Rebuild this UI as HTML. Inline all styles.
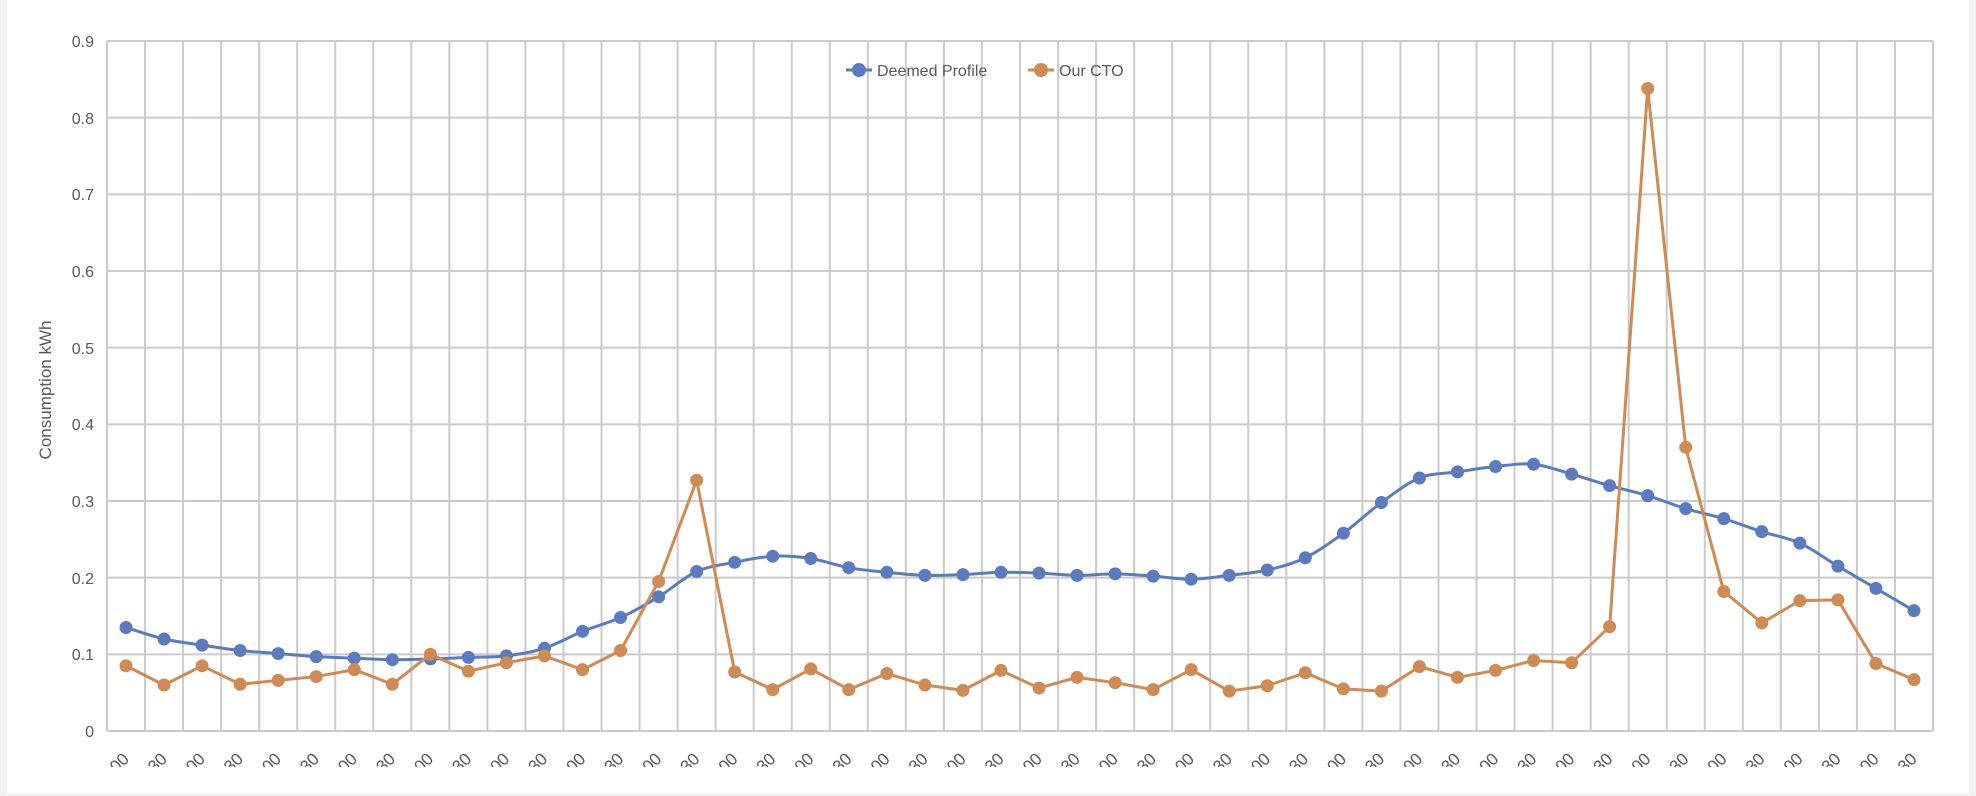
<!DOCTYPE html>
<html><head><meta charset="utf-8"><style>
body{margin:0;background:#f2f2f2;}
svg{display:block;font-family:"Liberation Sans",sans-serif;}
</style></head><body>
<svg id="c" width="1976" height="796" xmlns="http://www.w3.org/2000/svg">
<defs><clipPath id="cl"><rect x="0" y="745" width="1976" height="22"/></clipPath></defs>
<rect x="7" y="0" width="1962" height="793" fill="#fff"/>
<g id="grid" stroke="#cbcbcb" stroke-width="2"></g>
<g fill="#595959" font-size="16" text-anchor="end">
<text x="94" y="47">0.9</text><text x="94" y="124">0.8</text><text x="94" y="200">0.7</text>
<text x="94" y="277">0.6</text><text x="94" y="354">0.5</text><text x="94" y="430">0.4</text>
<text x="94" y="507">0.3</text><text x="94" y="584">0.2</text><text x="94" y="660">0.1</text>
<text x="94" y="737">0</text>
</g>
<text transform="translate(51,390) rotate(-90)" fill="#595959" font-size="17" text-anchor="middle">Consumption kWh</text>
<g id="xl" fill="#595959" font-size="17" text-anchor="end" clip-path="url(#cl)"></g>
<g id="series"></g>
<g font-size="16" fill="#595959">
<line x1="846" y1="70" x2="872" y2="70" stroke="#5b7bc0" stroke-width="3"/>
<circle cx="859" cy="70" r="7" fill="#5b7bc0"/>
<text x="877" y="76">Deemed Profile</text>
<line x1="1028" y1="70" x2="1054" y2="70" stroke="#d08a53" stroke-width="3"/>
<circle cx="1041" cy="70" r="7" fill="#d08a53"/>
<text x="1059" y="76">Our CTO</text>
</g>
</svg>
<script>
const L=107,R=1933,T=41,B=731,n=48,w=(R-L)/n;
const ns="http://www.w3.org/2000/svg";
function el(t,a,p){const e=document.createElementNS(ns,t);for(const k in a)e.setAttribute(k,a[k]);p.appendChild(e);return e;}
const g=document.getElementById('grid');
for(let i=0;i<=9;i++){const y=T+(B-T)*i/9;el('line',{x1:L,x2:R,y1:y,y2:y},g);}
for(let i=0;i<=n;i++){const x=L+w*i;el('line',{x1:x,x2:x,y1:T,y2:B},g);}
const xl=document.getElementById('xl');
for(let i=0;i<n;i++){const x=L+w*(i+0.5);const t=el('text',{transform:`translate(${x+4},${760}) rotate(-45)`},xl);t.textContent=i%2?'00:30':'00:00';}
const blue=[0.135,0.12,0.112,0.105,0.101,0.097,0.095,0.093,0.094,0.096,0.098,0.108,0.13,0.148,0.175,0.208,0.22,0.228,0.225,0.213,0.207,0.203,0.204,0.207,0.206,0.203,0.205,0.202,0.198,0.203,0.21,0.226,0.258,0.298,0.33,0.338,0.345,0.348,0.335,0.32,0.307,0.29,0.277,0.26,0.245,0.215,0.186,0.157];
const org=[0.085,0.06,0.085,0.061,0.066,0.071,0.08,0.061,0.1,0.078,0.089,0.098,0.08,0.105,0.195,0.327,0.077,0.054,0.081,0.054,0.075,0.06,0.053,0.079,0.056,0.07,0.063,0.054,0.08,0.052,0.059,0.076,0.055,0.052,0.084,0.07,0.079,0.092,0.089,0.136,0.838,0.37,0.182,0.141,0.17,0.171,0.088,0.067];
const s=document.getElementById('series');
function draw(d,c,smooth){const p=d.map((v,i)=>[L+w*(i+0.5),B-(B-T)*v/0.9]);
let path='M'+p[0].join(',');
for(let i=0;i<p.length-1;i++){
 if(smooth){const p0=p[Math.max(0,i-1)],p1=p[i],p2=p[i+1],p3=p[Math.min(p.length-1,i+2)];
  const c1=[p1[0]+(p2[0]-p0[0])/6,p1[1]+(p2[1]-p0[1])/6],c2=[p2[0]-(p3[0]-p1[0])/6,p2[1]-(p3[1]-p1[1])/6];
  path+=` C${c1} ${c2} ${p2}`;}
 else path+=' L'+p[i+1].join(',');}
el('path',{d:path,fill:'none',stroke:c,'stroke-width':3,'stroke-linejoin':'round'},s);
p.forEach(q=>el('circle',{cx:q[0],cy:q[1],r:6.5,fill:c},s));}
draw(blue,'#5b7bc0',true);draw(org,'#d08a53',false);
</script>
</body></html>
